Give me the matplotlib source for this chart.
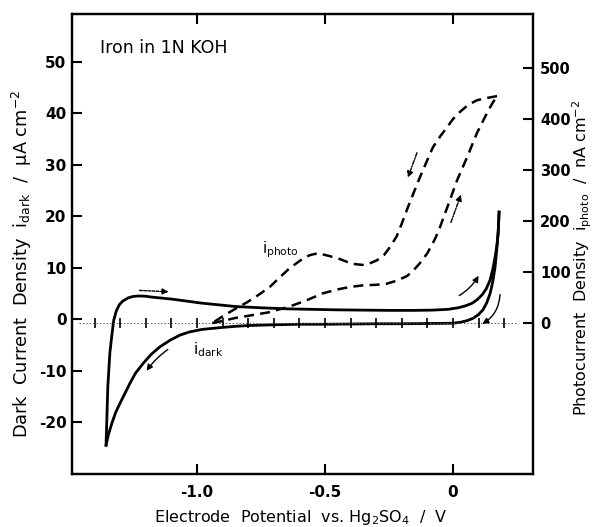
import numpy as np
import matplotlib
matplotlib.use("Agg")
import matplotlib.pyplot as plt

# dark current, anodic sweep (V, uA/cm2)
dark_fwd_v = [-1.355, -1.348, -1.340, -1.332, -1.325, -1.315, -1.303, -1.29, -1.27, -1.25, -1.23,
              -1.20, -1.18, -1.14, -1.10, -1.04, -0.98, -0.90, -0.85, -0.75, -0.65, -0.55, -0.45,
              -0.35, -0.25, -0.15, -0.08, -0.02, 0.02, 0.05, 0.075, 0.095, 0.115, 0.13, 0.145,
              0.156, 0.165, 0.172, 0.177, 0.18]
dark_fwd_i = [-24.5, -13.0, -6.5, -3.0, -0.2, 1.6, 2.8, 3.5, 4.1, 4.4, 4.5,
              4.45, 4.3, 4.1, 3.9, 3.5, 3.1, 2.7, 2.45, 2.2, 2.0, 1.9, 1.8,
              1.75, 1.7, 1.7, 1.75, 1.9, 2.2, 2.6, 3.1, 3.8, 4.8, 5.9, 7.6,
              9.8, 12.2, 14.5, 17.2, 20.8]

# dark current, cathodic sweep
dark_rev_v = [0.18, 0.178, 0.176, 0.17, 0.164, 0.155, 0.145, 0.132, 0.117, 0.10, 0.08, 0.055,
              0.03, 0.0, -0.1, -0.2, -0.3, -0.4, -0.5, -0.6, -0.7, -0.8, -0.85, -0.92,
              -0.98, -1.03, -1.066, -1.105, -1.145, -1.18, -1.21, -1.24, -1.262, -1.28, -1.30,
              -1.318, -1.332, -1.345, -1.355]
dark_rev_i = [20.8, 18.5, 16.5, 13.0, 10.0, 7.2, 5.0, 3.2, 1.8, 0.9, 0.2, -0.3,
              -0.6, -0.8, -0.85, -0.9, -0.9, -0.95, -1.0, -1.0, -1.1, -1.25, -1.4, -1.7,
              -2.0, -2.5, -3.1, -4.1, -5.4, -6.9, -8.6, -10.5, -12.5, -14.3, -16.3,
              -18.2, -20.2, -22.3, -24.5]

# photocurrent, anodic sweep (V, nA/cm2)
photo_fwd_v = [-0.94, -0.90, -0.85, -0.79, -0.72, -0.64, -0.57, -0.51, -0.45, -0.40, -0.35,
               -0.30, -0.26, -0.22, -0.18, -0.155, -0.13, -0.10, -0.07, -0.05, -0.02, 0.016,
               0.055, 0.094, 0.133, 0.155, 0.172]
photo_fwd_p = [0, 4, 10, 15, 21, 32, 45, 58, 66, 71, 74,
               75, 77, 83, 92, 103, 117, 137, 165, 189, 230, 280,
               325, 373, 412, 432, 445]

# photocurrent, cathodic sweep
photo_rev_v = [0.172, 0.15, 0.12, 0.094, 0.06, 0.027, 0.0, -0.023, -0.05, -0.078, -0.10,
               -0.129, -0.15, -0.18, -0.20, -0.22, -0.246, -0.27, -0.297, -0.33, -0.355,
               -0.39, -0.414, -0.45, -0.48, -0.527, -0.56, -0.59, -0.637, -0.68, -0.715,
               -0.76, -0.80, -0.86, -0.90, -0.94]
photo_rev_p = [445, 443, 440, 437, 428, 414, 400, 384, 366, 345, 320,
               286, 260, 222, 195, 170, 149, 133, 123, 116, 114,
               116, 120, 127, 131, 137, 133, 125, 108, 88, 71,
               55, 42, 25, 13, 0]

# potential ticks along the zero line
zero_ticks = [-1.4, -1.3, -1.2, -1.1, -1.0, -0.9, -0.8, -0.7, -0.6, -0.5, -0.4, -0.3,
              -0.2, -0.1, 0.0, 0.1, 0.2]

x_ticks = [-1.0, -0.5, 0.0]
x_labels = ["-1.0", "-0.5", "0"]
dark_ticks = [-20, -10, 0, 10, 20, 30, 40, 50]
photo_ticks = [0, 100, 200, 300, 400, 500]

plt.rcParams["font.family"] = ["DejaVu Sans"]
plt.rcParams["axes.unicode_minus"] = False

fig = plt.figure(figsize=(6.0, 5.27), dpi=100)
ax = fig.add_axes([72 / 600, 53 / 527, 461 / 600, 460 / 527])
ax2 = ax.twinx()

ax.set_xlim(-1.488, 0.3125)
ax.set_ylim(-30.1, 59.3)
ax2.set_ylim(-296, 606)

# zero line with potential marks
ax2.plot([-1.46, 0.25], [0, 0], color="0.35", lw=0.7, linestyle=(0, (1.5, 2)))
ax2.plot(zero_ticks, [0] * len(zero_ticks), linestyle="none", marker="|",
         markersize=7, mew=1.2, color="black")

# dark current loop
ax.plot(dark_fwd_v, dark_fwd_i, color="black", lw=2.0)
ax.plot(dark_rev_v, dark_rev_i, color="black", lw=2.0)

# photocurrent loop
ax2.plot(photo_fwd_v, photo_fwd_p, color="black", lw=1.8, dashes=(4, 2.5))
ax2.plot(photo_rev_v, photo_rev_p, color="black", lw=1.8, dashes=(4, 2.5))

# sweep direction arrows
arrow = dict(arrowstyle="-|>", color="black", lw=1.0, mutation_scale=9)
ax.annotate("", xy=(-1.10, 5.3), xytext=(-1.235, 5.6),
            arrowprops=dict(arrow, linestyle=(0, (2, 1))))
ax.annotate("", xy=(-1.203, -10.5), xytext=(-1.105, -5.6),
            arrowprops=dict(arrow, connectionstyle="arc3,rad=0.1"))
ax.annotate("", xy=(0.105, 8.9), xytext=(0.015, 4.3),
            arrowprops=dict(arrow, connectionstyle="arc3,rad=0.15"))
ax.annotate("", xy=(0.105, -1.2), xytext=(0.184, 5.3),
            arrowprops=dict(arrow, connectionstyle="arc3,rad=-0.3"))
ax2.annotate("", xy=(-0.18, 280), xytext=(-0.137, 339),
             arrowprops=dict(arrow, linestyle=(0, (3, 1, 1, 1))))
ax2.annotate("", xy=(0.035, 257), xytext=(-0.012, 192),
             arrowprops=dict(arrow, linestyle=(0, (3, 1, 1, 1))))

# curve labels
ax.text(-0.746, 13.4, r"i$_\mathregular{photo}$", fontsize=11, ha="left", va="center")
ax.text(-1.016, -6.0, r"i$_\mathregular{dark}$", fontsize=11, ha="left", va="center")
ax.text(0.061, 0.926, "Iron in 1N KOH", transform=ax.transAxes, fontsize=12.5,
        ha="left", va="center")

# axes and ticks
ax.set_xticks(x_ticks)
ax.set_xticklabels(x_labels)
ax.set_yticks(dark_ticks)
ax2.set_yticks(photo_ticks)
ax.xaxis.set_ticks_position("both")
ax.tick_params(axis="x", direction="in", length=7, width=1.5, pad=8, labelsize=11,
               top=True, bottom=True, labeltop=False)
ax.tick_params(axis="y", direction="in", length=7, width=1.5, pad=4, labelsize=11)
ax2.tick_params(axis="y", direction="in", length=7, width=1.5, pad=5, labelsize=10.5)
for lab in ax.get_xticklabels() + ax.get_yticklabels() + ax2.get_yticklabels():
    lab.set_fontweight("bold")
for sp in ax.spines.values():
    sp.set_linewidth(1.6)
for sp in ax2.spines.values():
    sp.set_linewidth(1.6)

ax.set_xlabel(r"Electrode  Potential  vs. Hg$_\mathregular{2}$SO$_\mathregular{4}$  /  V",
              fontsize=11.5)
ax.xaxis.set_label_coords(0.497, -0.074)
ax.set_ylabel(r"Dark  Current  Density  i$_\mathregular{dark}$  /  $\mathregular{\mu}$A cm$^\mathregular{-2}$",
              fontsize=12.8)
ax.yaxis.set_label_coords(-0.083, 0.457)
ax2.set_ylabel(r"Photocurrent  Density  i$_\mathregular{photo}$  /  nA cm$^\mathregular{-2}$",
               fontsize=11.5, rotation=90)
ax2.yaxis.set_label_coords(1.082, 0.47)

plt.savefig("out.png", dpi=100)
